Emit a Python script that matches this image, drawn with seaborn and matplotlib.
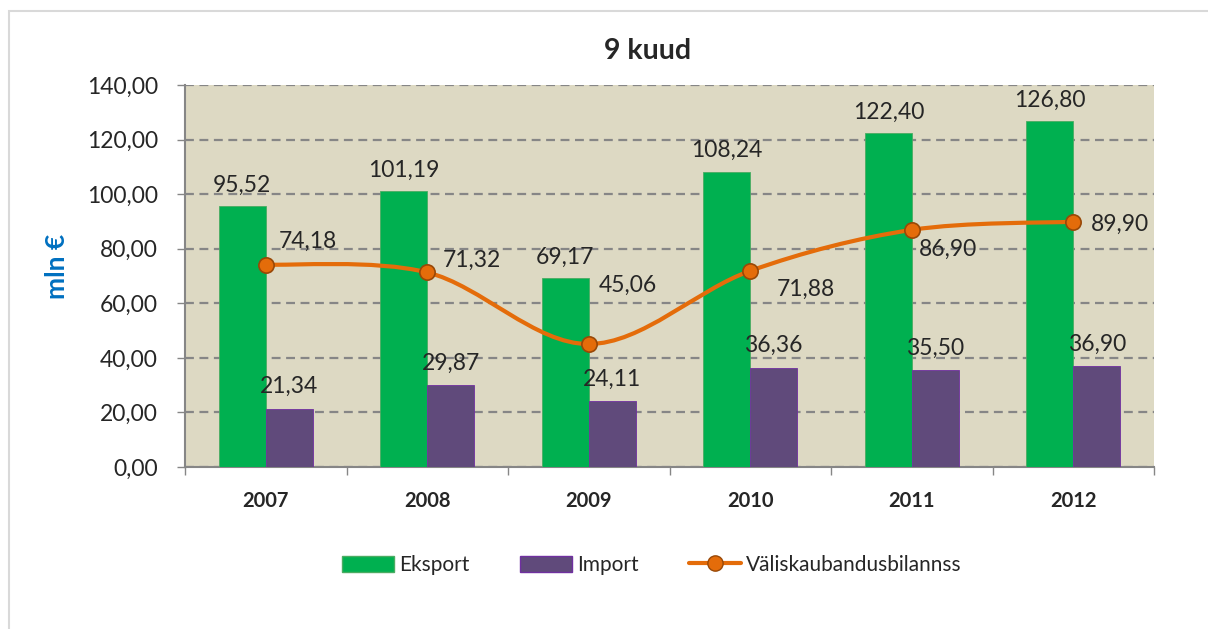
import numpy as np
import pandas as pd
import matplotlib
matplotlib.use("Agg")
import matplotlib.pyplot as plt
import seaborn as sns
from matplotlib.path import Path
from matplotlib.patches import PathPatch, Rectangle, Patch
from matplotlib.lines import Line2D

years = ["2007", "2008", "2009", "2010", "2011", "2012"]
eksport = [95.52, 101.19, 69.17, 108.24, 122.40, 126.80]
import_vals = [21.34, 29.87, 24.11, 36.36, 35.50, 36.90]
bilanss = [74.18, 71.32, 45.06, 71.88, 86.90, 89.90]
series_names = ["Eksport", "Import", "Väliskaubandusbilannss"]

# label offsets (px) for the balance line labels, as placed in the original
bil_offsets = [(13, 23), (15, 12), (10, 59), (26, -18), (7, -19), (18, -3)]

GREEN = "#00B050"
PURPLE = "#604A7B"
ORANGE = "#E46C0A"
BG = "#DDD9C3"
GRID = "#868686"
NUM_FS = 16.5


def fmt(v):
    return f"{v:.2f}".replace(".", ",")


sns.set_style("white")
plt.rcParams["font.family"] = ["Lato", "DejaVu Sans"]

df = pd.DataFrame({
    "Aasta": years * 2,
    "Väärtus": eksport + import_vals,
    "Seeria": [series_names[0]] * 6 + [series_names[1]] * 6,
})

fig = plt.figure(figsize=(12.08, 6.29), dpi=100)
ax = fig.add_axes([185 / 1208, 1 - 467 / 629, (1154 - 185) / 1208, (467 - 85) / 629])
ax.set_facecolor(BG)

sns.barplot(data=df, x="Aasta", y="Väärtus", hue="Seeria",
            palette=[GREEN, PURPLE], width=0.58, gap=0, dodge=True,
            legend=False, ax=ax, saturation=1)
for i, bar in enumerate(ax.patches):
    bar.set_edgecolor("#4BAC62" if i < 6 else "#7030A0")
    bar.set_linewidth(0.6)
    bar.set_zorder(3)

# smoothed balance line (bezier, like Excel smoothing)
xs = np.arange(len(years), dtype=float)
pts = np.column_stack([xs, bilanss])
verts = [pts[0]]
codes = [Path.MOVETO]
n = len(pts)
for i in range(n - 1):
    p0 = pts[i - 1] if i > 0 else pts[i]
    p1 = pts[i]
    p2 = pts[i + 1]
    p3 = pts[i + 2] if i + 2 < n else pts[i + 1]
    c1 = p1 + (p2 - p0) / 6
    c2 = p2 - (p3 - p1) / 6
    verts += [c1, c2, p2]
    codes += [Path.CURVE4] * 3
ax.add_patch(PathPatch(Path(verts, codes), facecolor="none",
                       edgecolor=ORANGE, lw=3, zorder=4, capstyle="round"))
ax.plot(xs, bilanss, ls="none", marker="o", ms=11, mfc=ORANGE,
        mec="#984807", mew=1.2, zorder=5)

# data labels
for i in range(len(years)):
    ax.annotate(fmt(eksport[i]), (i - 0.145, eksport[i]), xytext=(0, 15),
                textcoords="offset points", ha="center", va="center",
                fontsize=NUM_FS, zorder=6)
    ax.annotate(fmt(import_vals[i]), (i + 0.145, import_vals[i]), xytext=(0, 16),
                textcoords="offset points", ha="center", va="center",
                fontsize=NUM_FS, zorder=6)
    dx, dy = bil_offsets[i]
    ax.annotate(fmt(bilanss[i]), (i, bilanss[i]), xytext=(dx * 0.72, dy * 0.72),
                textcoords="offset points", ha="left", va="center",
                fontsize=NUM_FS, zorder=6)

ax.set_ylim(0, 140)
ax.set_xlim(-0.5, len(years) - 0.5)
ax.set_yticks(np.arange(0, 141, 20))
ax.set_yticklabels([fmt(v) for v in np.arange(0, 141, 20)], fontsize=NUM_FS)
ax.yaxis.grid(True, color=GRID, ls=(0, (4, 2.5)), lw=1.6, zorder=0)
ax.set_axisbelow(True)
ax.tick_params(axis="y", length=6, width=1, color=GRID, pad=13.5, left=True)

ax.set_xticks(xs)
ax.set_xticklabels(years, fontsize=14.5, fontweight="bold")
ax.set_xticks(np.arange(-0.5, len(years), 1.0), minor=True)
ax.tick_params(axis="x", which="major", length=0, pad=17)
ax.tick_params(axis="x", which="minor", length=6, width=1, color=GRID, bottom=True)

ax.set_xlabel("")
ax.set_ylabel("")
for s in ["top", "right"]:
    ax.spines[s].set_visible(False)
for s in ["left", "bottom"]:
    ax.spines[s].set_color(GRID)
    ax.spines[s].set_linewidth(1.5)

fig.text(648 / 1208, 1 - 51 / 629, "9 kuud", ha="center", va="center",
         fontsize=20.5, fontweight="bold")
fig.text(57 / 1208, 1 - 266 / 629, "mln €", ha="center", va="center",
         rotation=90, fontsize=19, fontweight="bold", color="#0070C0")

handles = [
    Patch(facecolor=GREEN, edgecolor="#4BAC62"),
    Patch(facecolor=PURPLE, edgecolor="#7030A0"),
    Line2D([0], [0], color=ORANGE, lw=3, marker="o", ms=11, mfc=ORANGE,
           mec="#984807"),
]
fig.legend(handles, series_names, loc="center", ncol=3,
           bbox_to_anchor=(652 / 1208, 1 - 565 / 629), frameon=False,
           fontsize=15, handlelength=2.5, handleheight=0.8,
           handletextpad=0.25, columnspacing=2.4)

fig.patches.append(Rectangle((8.5 / 1208, -0.1), 1.2, 1 - 10.5 / 629 + 0.1,
                             transform=fig.transFigure, fill=False,
                             edgecolor="#D9D9D9", lw=1.5, zorder=0))

fig.savefig("out.png", dpi=100)
